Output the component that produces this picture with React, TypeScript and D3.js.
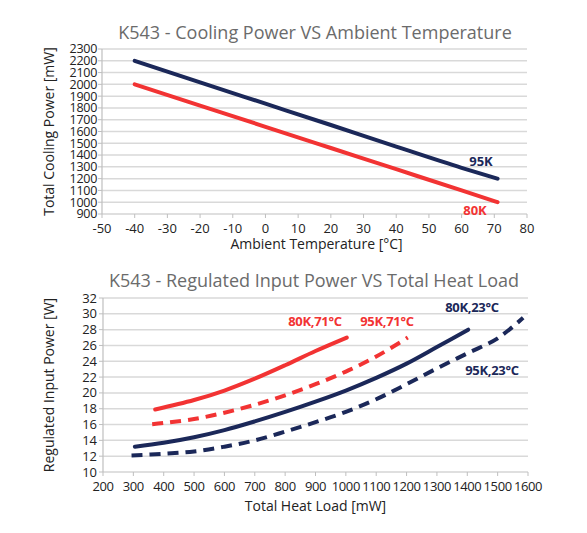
import * as d3 from "d3";

// Top chart: cooling power vs ambient temperature
const tempTicks = [-50, -40, -30, -20, -10, 0, 10, 20, 30, 40, 50, 60, 70, 80];
const coolTicks = [900, 1000, 1100, 1200, 1300, 1400, 1500, 1600, 1700, 1800, 1900, 2000, 2100, 2200, 2300];
const ambient = [-40, -20, 0, 20, 40, 60, 71];
const cool95K = [2200, 2017, 1836, 1655, 1472, 1292, 1200];
const cool80K = [2000, 1820, 1640, 1460, 1280, 1100, 1000];

// Bottom chart: regulated input power vs total heat load
const loadTicks = [200, 300, 400, 500, 600, 700, 800, 900, 1000, 1100, 1200, 1300, 1400, 1500, 1600];
const powerTicks = [10, 12, 14, 16, 18, 20, 22, 24, 26, 28, 30, 32];
const load80K71 = [372, 500, 600, 700, 800, 900, 1003];
const pow80K71 = [17.9, 19.1, 20.3, 21.8, 23.5, 25.3, 27.0];
const load95K71 = [362, 400, 500, 600, 700, 800, 900, 1000, 1100, 1204];
const pow95K71 = [16.05, 16.2, 16.7, 17.5, 18.5, 19.7, 21.1, 22.7, 24.6, 27.0];
const load80K23 = [305, 400, 500, 600, 700, 800, 900, 1000, 1100, 1200, 1300, 1403];
const pow80K23 = [13.2, 13.7, 14.4, 15.3, 16.4, 17.6, 18.9, 20.3, 21.9, 23.7, 25.8, 28.0];
const load95K23 = [294, 400, 500, 600, 700, 800, 900, 1000, 1100, 1200, 1300, 1400, 1500, 1584];
const pow95K23 = [12.1, 12.3, 12.6, 13.2, 14.0, 15.1, 16.3, 17.6, 19.2, 21.1, 23.1, 25.0, 26.9, 29.5];

const NAVY = "#1b2859";
const RED = "#f23333";
const GRID = "#d9d9d9";
const AXIS = "#bfbfbf";
const FONT = "'Open Sans', 'Noto Sans', sans-serif";

type Pt = [number, number];
const zip = (xs: number[], ys: number[]): Pt[] => xs.map((x, i) => [x, ys[i]]);

export default function App() {
  // top scales
  const xT = d3.scaleLinear().domain([-50, 80]).range([102, 527]);
  const yT = d3.scaleLinear().domain([900, 2300]).range([214, 49]);
  // bottom scales
  const xB = d3.scaleLinear().domain([200, 1600]).range([103, 528]);
  const yB = d3.scaleLinear().domain([10, 32]).range([472, 298]);

  const lineT = d3.line<Pt>().x(d => xT(d[0])).y(d => yT(d[1])).curve(d3.curveMonotoneX);
  const lineB = d3.line<Pt>().x(d => xB(d[0])).y(d => yB(d[1])).curve(d3.curveCatmullRom.alpha(0.5));

  const tickStyle = { fontFamily: FONT, fontSize: 13, fill: "#222" } as const;

  return (
    <svg width={587} height={533} style={{ position: "absolute", left: 0, top: 0, background: "#fff" }}>
      {/* ---------- top chart ---------- */}
      <text x={315} y={39} textAnchor="middle" fontFamily={FONT} fontSize={18} fill="#6b6b6b">
        K543 - Cooling Power VS Ambient Temperature
      </text>
      {coolTicks.map(t => (
        <g key={"ct" + t}>
          {t > 900 && <line x1={xT(-50)} x2={xT(80)} y1={yT(t)} y2={yT(t)} stroke={GRID} strokeWidth={1.5} />}
          <line x1={xT(-50) - 4} x2={xT(-50)} y1={yT(t)} y2={yT(t)} stroke={AXIS} />
          <text x={xT(-50) - 5} y={yT(t)} dy="0.35em" textAnchor="end" fontFamily={FONT} fontSize={12.5}
            letterSpacing={-0.3} fill="#222">
            {t}
          </text>
        </g>
      ))}
      <line x1={xT(-50)} x2={xT(-50)} y1={yT(2300)} y2={yT(900)} stroke={AXIS} strokeWidth={1.2} />
      <line x1={xT(-50)} x2={xT(80)} y1={yT(900)} y2={yT(900)} stroke={AXIS} strokeWidth={1.2} />
      {tempTicks.map(t => (
        <g key={"tt" + t}>
          <line x1={xT(t)} x2={xT(t)} y1={yT(900)} y2={yT(900) + 4} stroke={AXIS} />
          <text x={xT(t)} y={yT(900) + 14} dy="0.35em" textAnchor="middle" {...tickStyle}>
            {t}
          </text>
        </g>
      ))}
      <text transform={`translate(54,${(yT(2300) + yT(900)) / 2}) rotate(-90)`} textAnchor="middle"
        fontFamily={FONT} fontSize={14} fill="#222">
        Total Cooling Power [mW]
      </text>
      <text x={(xT(-50) + xT(80)) / 2 + 2} y={249} textAnchor="middle" fontFamily={FONT} fontSize={14} fill="#222">
        Ambient Temperature [°C]
      </text>
      <path d={lineT(zip(ambient, cool95K)) || ""} fill="none" stroke={NAVY} strokeWidth={4} strokeLinecap="round" />
      <path d={lineT(zip(ambient, cool80K)) || ""} fill="none" stroke={RED} strokeWidth={4} strokeLinecap="round" />
      <text x={481} y={161} dy="0.35em" textAnchor="middle" fontFamily={FONT} fontWeight={700} fontSize={13} fill={NAVY}>
        95K
      </text>
      <text x={475} y={210} dy="0.35em" textAnchor="middle" fontFamily={FONT} fontWeight={700} fontSize={13} fill={RED}>
        80K
      </text>

      {/* ---------- bottom chart ---------- */}
      <text x={314} y={287} textAnchor="middle" fontFamily={FONT} fontSize={18} fill="#6b6b6b">
        K543 - Regulated Input Power VS Total Heat Load
      </text>
      {powerTicks.map(t => (
        <g key={"pt" + t}>
          {t > 10 && <line x1={xB(200)} x2={xB(1600)} y1={yB(t)} y2={yB(t)} stroke={GRID} strokeWidth={1.5} />}
          <line x1={xB(200) - 4} x2={xB(200)} y1={yB(t)} y2={yB(t)} stroke={AXIS} />
          <text x={xB(200) - 6} y={yB(t)} dy="0.35em" textAnchor="end" {...tickStyle}>
            {t}
          </text>
        </g>
      ))}
      <line x1={xB(200)} x2={xB(200)} y1={yB(32)} y2={yB(10)} stroke={AXIS} strokeWidth={1.2} />
      <line x1={xB(200)} x2={xB(1600)} y1={yB(10)} y2={yB(10)} stroke={AXIS} strokeWidth={1.2} />
      {loadTicks.map(t => (
        <g key={"lt" + t}>
          <line x1={xB(t)} x2={xB(t)} y1={yB(10)} y2={yB(10) + 4} stroke={AXIS} />
          <text x={xB(t)} y={yB(10) + 14} dy="0.35em" textAnchor="middle" {...tickStyle} letterSpacing={-0.4}>
            {t}
          </text>
        </g>
      ))}
      <text transform={`translate(54,${(yB(32) + yB(10)) / 2}) rotate(-90)`} textAnchor="middle"
        fontFamily={FONT} fontSize={14} fill="#222">
        Regulated Input Power [W]
      </text>
      <text x={(xB(200) + xB(1600)) / 2} y={511} textAnchor="middle" fontFamily={FONT} fontSize={14} fill="#222">
        Total Heat Load [mW]
      </text>
      <path d={lineB(zip(load80K71, pow80K71)) || ""} fill="none" stroke={RED} strokeWidth={4} strokeLinecap="round" />
      <path d={lineB(zip(load95K71, pow95K71)) || ""} fill="none" stroke={RED} strokeWidth={4} strokeDasharray="11,7" />
      <path d={lineB(zip(load80K23, pow80K23)) || ""} fill="none" stroke={NAVY} strokeWidth={4} strokeLinecap="round" />
      <path d={lineB(zip(load95K23, pow95K23)) || ""} fill="none" stroke={NAVY} strokeWidth={4} strokeDasharray="11,7" />
      <text x={315} y={321} dy="0.35em" textAnchor="middle" fontFamily={FONT} fontWeight={700} fontSize={13} fill={RED} letterSpacing={-0.3}>
        80K,71°C
      </text>
      <text x={387} y={321} dy="0.35em" textAnchor="middle" fontFamily={FONT} fontWeight={700} fontSize={13} fill={RED} letterSpacing={-0.3}>
        95K,71°C
      </text>
      <text x={472} y={307} dy="0.35em" textAnchor="middle" fontFamily={FONT} fontWeight={700} fontSize={13} fill={NAVY} letterSpacing={-0.3}>
        80K,23°C
      </text>
      <text x={492} y={370} dy="0.35em" textAnchor="middle" fontFamily={FONT} fontWeight={700} fontSize={13} fill={NAVY} letterSpacing={-0.3}>
        95K,23°C
      </text>
    </svg>
  );
}
